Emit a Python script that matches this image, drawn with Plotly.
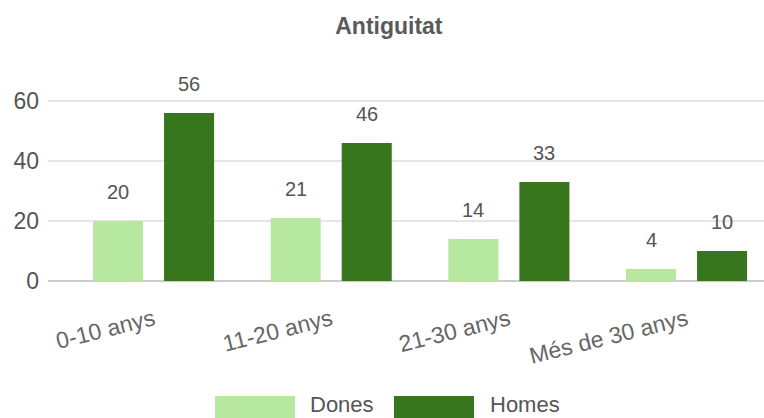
import plotly.graph_objects as go

categories = ["0-10 anys", "11-20 anys", "21-30 anys", "Més de 30 anys"]
dones = [20, 21, 14, 4]
homes = [56, 46, 33, 10]
series_names = ["Dones", "Homes"]
y_ticks = [0, 20, 40, 60]
title_text = "Antiguitat"

col_dones = "#b7e8a0"
col_homes = "#38761d"
FONT = "Arial, 'Liberation Sans', sans-serif"

BARGAP = 0.2
fig = go.Figure()
fig.add_trace(go.Bar(x=categories, y=dones, name=series_names[0],
                     marker=dict(color=col_dones, line=dict(width=0))))
fig.add_trace(go.Bar(x=categories, y=homes, name=series_names[1],
                     marker=dict(color=col_homes, line=dict(width=0))))

# value labels above bars
slot = (1 - BARGAP) / 2
annotations = []
for si, vals in enumerate([dones, homes]):
    off = (si - 0.5) * slot
    for i, v in enumerate(vals):
        annotations.append(dict(x=i + off, y=v, xref="x", yref="y", text=str(v),
                                showarrow=False, yanchor="bottom", yshift=16,
                                font=dict(family=FONT, size=20, color="#555555")))

# custom legend (wide swatches like the original)
sw = [(0.2332, 0.345), (0.4832, 0.595)]
txt_x = [0.3631, 0.6145]
shapes = []
for i, (name, col) in enumerate(zip(series_names, [col_dones, col_homes])):
    shapes.append(dict(type="rect", xref="paper", yref="paper",
                       x0=sw[i][0], x1=sw[i][1], y0=-0.63, y1=-0.511,
                       fillcolor=col, line=dict(width=0)))
    annotations.append(dict(x=txt_x[i], y=-0.548, xref="paper", yref="paper",
                            text=name, showarrow=False, xanchor="left", yanchor="middle",
                            font=dict(family=FONT, size=22, color="#555555")))

fig.update_layout(
    width=764, height=418,
    margin=dict(l=48, r=0, t=56, b=137),
    paper_bgcolor="white", plot_bgcolor="white",
    barmode="group", bargap=BARGAP, bargroupgap=0.296,
    showlegend=False,
    title=dict(text="<b>" + title_text + "</b>", x=0.509, xanchor="center",
               y=0.938, yanchor="middle", yref="container",
               font=dict(family=FONT, size=23, color="#5a5a5a")),
    font=dict(family=FONT, size=22, color="#555555"),
    xaxis=dict(type="category", range=[-0.594, 3.436], tickangle=-14,
               showgrid=False, showline=False, zeroline=False, ticks="",
               tickfont=dict(family=FONT, size=23, color="#666666"),
               ticklabelstandoff=20),
    yaxis=dict(range=[0, 75], tickvals=y_ticks, showgrid=True, gridcolor="#e6e6e6",
               gridwidth=2, zeroline=True, zerolinecolor="#cccccc", zerolinewidth=2,
               showline=False, ticks="",
               tickfont=dict(family=FONT, size=23, color="#555555"),
               ticklabelstandoff=8),
    annotations=annotations,
    shapes=shapes,
)

fig.write_html("out.html", config={"displayModeBar": False},
               post_script="document.body.style.margin='0';")
